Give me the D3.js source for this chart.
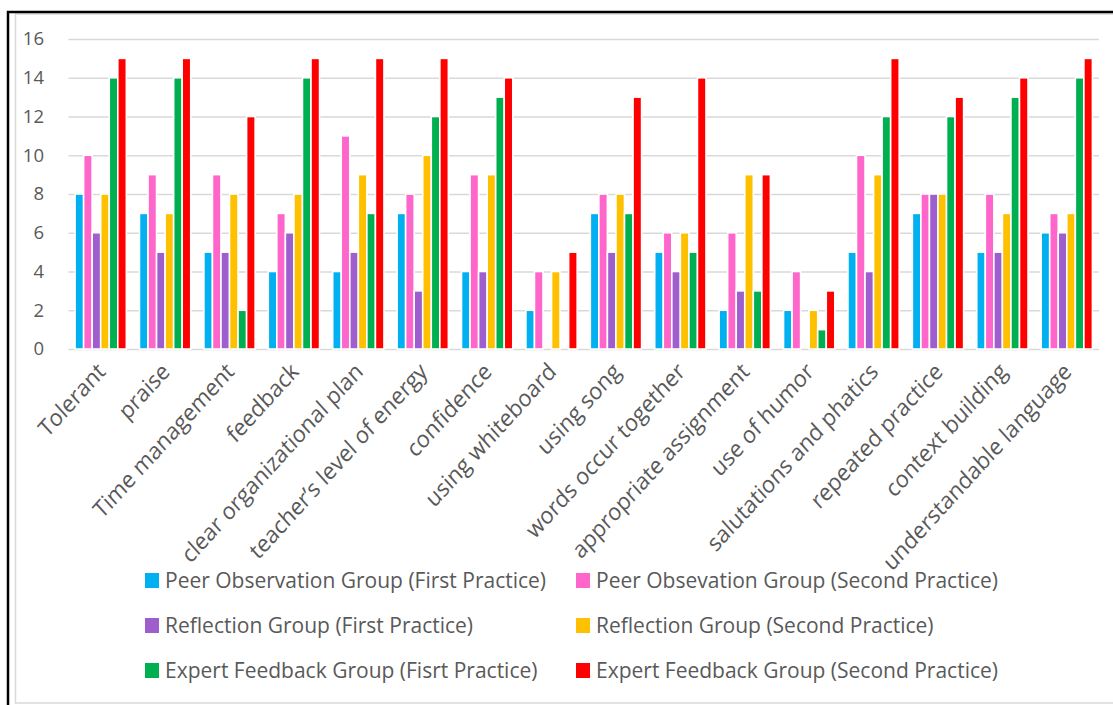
<!DOCTYPE html>
<html>
<head>
<meta charset="utf-8">
<script src="https://cdn.jsdelivr.net/npm/d3@7"></script>
<style>
  body { margin: 0; background: #fff; }
  svg { display: block; font-family: "Open Sans", sans-serif; }
  .yAxis text, .xAxis text { fill: #595959; }
  .legend text { fill: #595959; }
</style>
</head>
<body>
<div id="container"></div>
<script>
/* CONSTANTS AND GLOBALS */
const width = 1113,
  height = 705,
  margin = { top: 39, bottom: 356, left: 68.5, right: 14 }

// categories along the x axis
const categories = [
  "Tolerant", "praise", "Time management", "feedback",
  "clear organizational plan", "teacher\u2019s level of energy", "confidence",
  "using whiteboard", "using song", "words occur together",
  "appropriate assignment", "use of humor", "salutations and phatics",
  "repeated practice", "context building", "understandable language"
]

// series names (legend order) and colours
const seriesNames = [
  "Peer Observation Group (First Practice)",
  "Peer Obsevation Group (Second Practice)",
  "Reflection Group (First Practice)",
  "Reflection Group (Second Practice)",
  "Expert Feedback Group (Fisrt Practice)",
  "Expert Feedback Group (Second Practice)"
]
const seriesColors = ["#00B0F0", "#FF66CC", "#9E5ECE", "#FFC000", "#00B050", "#FF0000"]

// values per series, one per category
const peerFirst    = [8, 7, 5, 4, 4, 7, 4, 2, 7, 5, 2, 2, 5, 7, 5, 6]
const peerSecond   = [10, 9, 9, 7, 11, 8, 9, 4, 8, 6, 6, 4, 10, 8, 8, 7]
const reflFirst    = [6, 5, 5, 6, 5, 3, 4, 0, 5, 4, 3, 0, 4, 8, 5, 6]
const reflSecond   = [8, 7, 8, 8, 9, 10, 9, 4, 8, 6, 9, 2, 9, 8, 7, 7]
const expertFirst  = [14, 14, 2, 14, 7, 12, 13, 0, 7, 5, 3, 1, 12, 12, 13, 14]
const expertSecond = [15, 15, 12, 15, 15, 15, 14, 5, 13, 14, 9, 3, 15, 13, 14, 15]

const yTicks = [0, 2, 4, 6, 8, 10, 12, 14, 16]

const seriesValues = [peerFirst, peerSecond, reflFirst, reflSecond, expertFirst, expertSecond]

// rows for the grouped bars
const data = categories.map((c, i) => ({
  category: c,
  values: seriesNames.map((s, j) => ({ series: s, value: seriesValues[j][i] }))
}))

/* SCALES */
const xScale = d3.scaleBand()
  .domain(categories)
  .range([margin.left, width - margin.right])
  .paddingInner(0.204)
  .paddingOuter(0.102)

const xInner = d3.scaleBand()
  .domain(seriesNames)
  .range([0, xScale.bandwidth()])

const yScale = d3.scaleLinear()
  .domain([0, 16])
  .range([height - margin.bottom, margin.top])

const color = d3.scaleOrdinal()
  .domain(seriesNames)
  .range(seriesColors)

/* CREATE SVG ELEMENT */
const svg = d3.select("#container")
  .append("svg")
  .attr("width", width)
  .attr("height", height)

// outer frames: light chart border + black figure border
svg.append("rect")
  .attr("x", 15.5)
  .attr("y", 14)
  .attr("width", width + 20)
  .attr("height", 689)
  .attr("fill", "none")
  .attr("stroke", "#d9d9d9")
  .attr("stroke-width", 1.5)

svg.append("path")
  .attr("d", `M8,${height + 5} L8,12 L${width + 5},12`)
  .attr("fill", "none")
  .attr("stroke", "#000")
  .attr("stroke-width", 2.5)

/* AXES */
const yAxis = d3.axisLeft(yScale)
  .tickValues(yTicks)
  .tickSizeInner(-(width - margin.right - margin.left))
  .tickSizeOuter(0)
  .tickPadding(24.5)

const yAxisGroup = svg.append("g")
  .attr("class", "yAxis")
  .attr("transform", `translate(${margin.left}, 0)`)
  .call(yAxis)

yAxisGroup.select(".domain").remove()
yAxisGroup.selectAll("line")
  .attr("stroke", "#d9d9d9")
  .attr("stroke-width", 1.6)
yAxisGroup.selectAll("text")
  .attr("font-size", 18.5)
  .attr("font-family", "'Open Sans', sans-serif")

const xAxis = d3.axisBottom(xScale)
  .tickSize(0)
  .tickPadding(0)

const xAxisGroup = svg.append("g")
  .attr("class", "xAxis")
  .attr("transform", `translate(0, ${height - margin.bottom})`)
  .call(xAxis)

xAxisGroup.select(".domain").remove()
// labels rotated, slightly stretched vertically like the source picture
xAxisGroup.selectAll("text")
  .attr("font-size", 21.5)
  .attr("font-family", "'Open Sans', sans-serif")
  .attr("text-anchor", "end")
  .attr("y", 0)
  .attr("dy", 0)
  .attr("transform", "translate(6, 24) scale(1, 1.1) rotate(-45)")

/* DRAW BARS */
const groups = svg.selectAll(".group")
  .data(data)
  .join("g")
  .attr("class", "group")
  .attr("transform", d => `translate(${xScale(d.category)}, 0)`)

groups.selectAll("rect")
  .data(d => d.values.filter(v => v.value > 0))
  .join("rect")
  .attr("x", d => xInner(d.series))
  .attr("y", d => yScale(d.value))
  .attr("width", xInner.bandwidth())
  .attr("height", d => yScale(0) - yScale(d.value))
  .attr("fill", d => color(d.series))
  .attr("stroke", "#fff")
  .attr("stroke-width", 1.6)

/* LEGEND */
const legend = svg.append("g")
  .attr("class", "legend")

const legendItems = legend.selectAll("g")
  .data(seriesNames)
  .join("g")
  .attr("transform", (d, i) => `translate(${i % 2 === 0 ? 145 : 576}, ${580.5 + Math.floor(i / 2) * 45})`)

legendItems.append("rect")
  .attr("x", 0)
  .attr("y", -7.5)
  .attr("width", 14)
  .attr("height", 15)
  .attr("fill", d => color(d))

legendItems.append("text")
  .attr("x", 20)
  .attr("y", 0)
  .attr("dy", "0.35em")
  .attr("font-size", 21)
  .text(d => d)
</script>
</body>
</html>
